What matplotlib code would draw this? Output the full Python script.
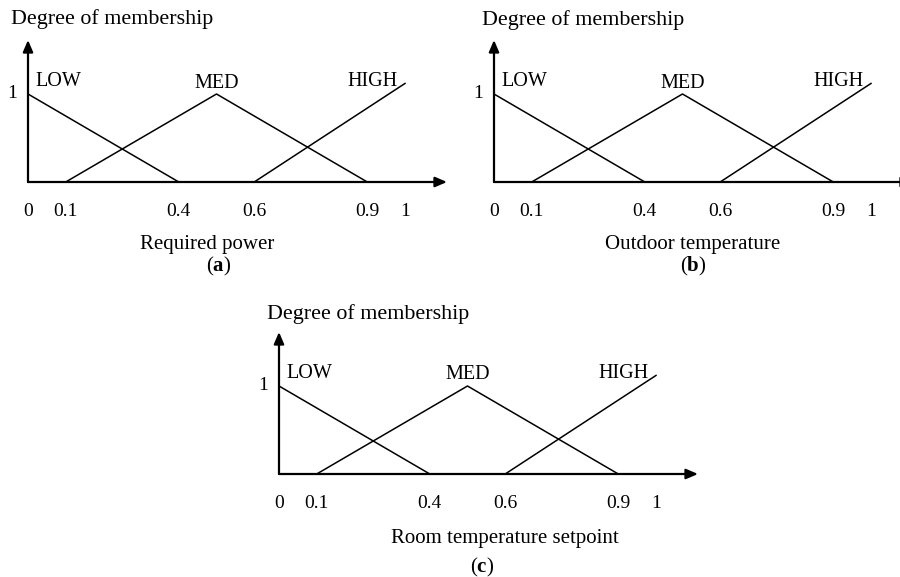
"""Fuzzy membership functions for the three controller inputs."""
import matplotlib
matplotlib.use("Agg")
import matplotlib.pyplot as plt

plt.rcParams["font.family"] = ["Liberation Serif", "DejaVu Serif"]
plt.rcParams["mathtext.fontset"] = "custom"
plt.rcParams["mathtext.rm"] = "Liberation Serif"
plt.rcParams["mathtext.bf"] = "Liberation Serif:bold"

# membership functions (same shape for every input)
LOW_X = [0.0, 0.4]
LOW_Y = [1.0, 0.0]
MED_X = [0.1, 0.5, 0.9]
MED_Y = [0.0, 1.0, 0.0]
HIGH_X = [0.6, 1.0]
HIGH_Y = [0.0, 1.12]
SET_NAMES = ["LOW", "MED", "HIGH"]

TICKS = [0, 0.1, 0.4, 0.6, 0.9, 1]
TICK_LABELS = ["0", "0.1", "0.4", "0.6", "0.9", "1"]

PANELS = ["a", "b", "c"]
XLABELS = ["Required power", "Outdoor temperature", "Room temperature setpoint"]
YLABEL = "Degree of membership"

# layout, in pixels of the 900x577 picture
W, H = 900, 577
PX_X, PX_Y = 377, 88          # pixels per unit on x / y
AX_W, AX_H = 419, 142         # arrow lengths
ORIGINS = [(28, 182), (494, 182), (279, 474)]
TITLE_PX = [(112, 19), (583, 20), (368, 314)]
XLABEL_PX = [(207, 244), (693, 244), (505, 538)]
CAPTION_PX = [(219, 266), (693, 266), (482, 567)]

fig = plt.figure(figsize=(W / 100, H / 100), dpi=100)

arrow = dict(arrowstyle="-|>,head_length=0.7,head_width=0.3", lw=1.6,
             color="black", shrinkA=0, shrinkB=0)

for i, p in enumerate(PANELS):
    ox, oy = ORIGINS[i]
    ax = fig.add_axes([ox / W, 1 - oy / H, AX_W / W, AX_H / H])
    xmax, ymax = AX_W / PX_X, AX_H / PX_Y
    ax.set_xlim(0, xmax)
    ax.set_ylim(0, ymax)
    ax.axis("off")

    for xs, ys in [(LOW_X, LOW_Y), (MED_X, MED_Y), (HIGH_X, HIGH_Y)]:
        ax.plot(xs, ys, color="black", lw=1.1, clip_on=False)

    ax.annotate("", xy=(xmax, 0), xytext=(0, 0), arrowprops=arrow,
                annotation_clip=False)
    ax.annotate("", xy=(0, ymax), xytext=(0, 0), arrowprops=arrow,
                annotation_clip=False)

    # set names above the peaks
    ax.annotate(SET_NAMES[0], xy=(LOW_X[0], LOW_Y[0]), xytext=(7, 12),
                textcoords="offset pixels", ha="left", va="center", fontsize=14.5)
    ax.annotate(SET_NAMES[1], xy=(MED_X[1], MED_Y[1]), xytext=(0, 11),
                textcoords="offset pixels", ha="center", va="center", fontsize=14.5)
    ax.annotate(SET_NAMES[2], xy=(HIGH_X[1], 1.0), xytext=(-7, 12),
                textcoords="offset pixels", ha="right", va="center", fontsize=14.5)

    ax.annotate("1", xy=(0, 1), xytext=(-16, 0), textcoords="offset pixels",
                ha="center", va="center", fontsize=14)
    for t, lbl in zip(TICKS, TICK_LABELS):
        ax.annotate(lbl, xy=(t, 0), xytext=(0, -30), textcoords="offset pixels",
                    ha="center", va="center", fontsize=14, annotation_clip=False)

    tx, ty = TITLE_PX[i]
    fig.text(tx / W, 1 - ty / H, YLABEL, ha="center", va="center", fontsize=15.8)
    lx, ly = XLABEL_PX[i]
    fig.text(lx / W, 1 - ly / H, XLABELS[i], ha="center", va="center", fontsize=15)
    cx, cy = CAPTION_PX[i]
    fig.text(cx / W, 1 - cy / H, r"($\mathbf{%s}$)" % p, ha="center",
             va="center", fontsize=15)

fig.savefig("out.png", dpi=100)
